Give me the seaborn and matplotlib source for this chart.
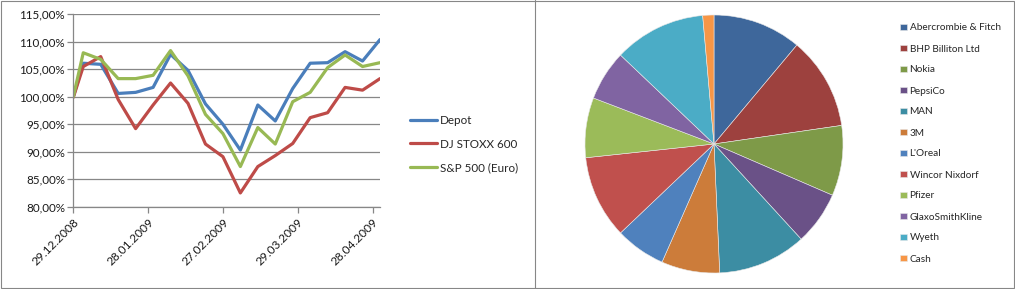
import matplotlib
matplotlib.use("Agg")
import matplotlib.pyplot as plt
import matplotlib.dates as mdates
from matplotlib.patches import Rectangle
from matplotlib.lines import Line2D
import seaborn as sns
import pandas as pd

# ---------------- data ----------------
dates = ["2008-12-29", "2009-01-02", "2009-01-09", "2009-01-16", "2009-01-23",
         "2009-01-30", "2009-02-06", "2009-02-13", "2009-02-20", "2009-02-27",
         "2009-03-06", "2009-03-13", "2009-03-20", "2009-03-27", "2009-04-03",
         "2009-04-10", "2009-04-17", "2009-04-24", "2009-05-01"]
depot = [100.0, 106.1, 105.9, 100.6, 100.8, 101.7, 107.7, 104.8, 98.7, 95.0,
         90.3, 98.5, 95.6, 101.5, 106.1, 106.2, 108.2, 106.5, 110.4]
stoxx = [99.9, 105.5, 107.3, 99.5, 94.2, 98.5, 102.5, 98.8, 91.4, 89.1,
         82.5, 87.3, 89.3, 91.5, 96.2, 97.1, 101.7, 101.2, 103.3]
sp500 = [100.0, 108.0, 106.8, 103.3, 103.3, 103.9, 108.4, 103.8, 96.8, 93.3,
         87.3, 94.4, 91.4, 99.1, 100.8, 105.3, 107.6, 105.5, 106.2]
series_names = ["Depot", "DJ STOXX 600", "S&P 500 (Euro)"]
line_colors = ["#4A7EBB", "#BE4B48", "#98B954"]

x_ticks = ["2008-12-29", "2009-01-28", "2009-02-27", "2009-03-29", "2009-04-28"]
x_range = ["2008-12-29", "2009-05-01"]
y_ticks = [80, 85, 90, 95, 100, 105, 110, 115]

pie_labels = ["Abercrombie & Fitch", "BHP Billiton Ltd", "Nokia", "PepsiCo", "MAN", "3M",
              "L'Oreal", "Wincor Nixdorf", "Pfizer", "GlaxoSmithKline", "Wyeth", "Cash"]
pie_values = [11.1, 11.6, 8.8, 6.7, 11.1, 7.3, 6.3, 10.4, 7.5, 6.3, 11.5, 1.4]
pie_colors = ["#3E679B", "#9D413E", "#7E9A48", "#6A5187", "#3C8DA3", "#CC7C3A",
              "#4F81BD", "#C0504D", "#9BBB59", "#8064A2", "#4BACC6", "#F79646"]

# ---------------- figure ----------------
sns.set_style("white")
plt.rcParams["font.family"] = ["Lato", "DejaVu Sans"]

W, H = 1015, 289
fig = plt.figure(figsize=(W / 100, H / 100), dpi=100)

def fx(px):
    return px / W

def fy(py):
    return 1 - py / H

grid_col = "#878787"

# frames
fig.add_artist(Rectangle((fx(0.5), fy(288.3)), fx(1013.6 - 0.5), (288.3 - 0.5) / H,
                         transform=fig.transFigure, fill=False, edgecolor=grid_col, lw=0.8))
fig.add_artist(Line2D([fx(534.5), fx(534.5)], [fy(0), fy(289)], transform=fig.transFigure,
                      color=grid_col, lw=0.8))

# ---------------- line chart ----------------
df = pd.DataFrame({
    "date": pd.to_datetime(dates * 3),
    "value": depot + stoxx + sp500,
    "series": sum([[n] * len(dates) for n in series_names], []),
})

ax = fig.add_axes([fx(73.3), fy(206.7), fx(380 - 73.3), (206.7 - 14.3) / H])
sns.lineplot(data=df, x="date", y="value", hue="series", hue_order=series_names,
             palette=line_colors, lw=2.3, ax=ax, legend=True)

ax.set_xlim(pd.to_datetime(x_range[0]), pd.to_datetime(x_range[1]))
ax.set_ylim(y_ticks[0], y_ticks[-1])
ax.set_yticks(y_ticks)
ax.set_xticks(pd.to_datetime(x_ticks))
ax.xaxis.set_major_formatter(mdates.DateFormatter("%d.%m.%Y"))
ax.yaxis.set_major_formatter(plt.FuncFormatter(lambda v, p: f"{v:.2f}".replace(".", ",") + "%"))
ax.set_xlabel("")
ax.set_ylabel("")
ax.grid(axis="y", color=grid_col, lw=0.9)
ax.grid(axis="x", visible=False)
ax.set_axisbelow(True)
for s in ["top", "right"]:
    ax.spines[s].set_visible(False)
for s in ["left", "bottom"]:
    ax.spines[s].set_color(grid_col)
    ax.spines[s].set_linewidth(0.9)
ax.tick_params(axis="both", which="major", length=4, width=0.9, color=grid_col,
               labelsize=8.4, labelcolor="#1a1a1a", direction="out", left=True, bottom=True)
ax.tick_params(axis="y", pad=2)
ax.tick_params(axis="x", pad=3)
for lab in ax.get_xticklabels():
    lab.set_rotation(45)
    lab.set_ha("right")
    lab.set_va("top")
    lab.set_rotation_mode("anchor")
    lab.set_fontsize(8.6)

handles, labels = ax.get_legend_handles_labels()
ax.legend(handles, labels, loc="center left", bbox_to_anchor=(fx(410), fy(144)),
          bbox_transform=fig.transFigure, frameon=False, fontsize=8.4,
          handlelength=2.35, handletextpad=0.25, labelspacing=1.1,
          borderpad=0, borderaxespad=0)

# ---------------- pie chart ----------------
cx, cy, r = 714, 144, 129
pax = fig.add_axes([fx(cx - r), fy(cy + r), fx(2 * r), 2 * r / H])
wedges, _ = pax.pie(pie_values, colors=pie_colors, startangle=90, counterclock=False,
                    radius=1, wedgeprops=dict(edgecolor="#e8e8e8", linewidth=0.4))
pax.set_xlim(-1, 1)
pax.set_ylim(-1, 1)
pax.set_aspect("auto")
pax.axis("off")

pax.legend(wedges, pie_labels, loc="center left", bbox_to_anchor=(fx(900), fy(143.5)),
           bbox_transform=fig.transFigure, frameon=False, fontsize=7.2,
           handlelength=0.65, handleheight=0.65, handletextpad=0.3, labelspacing=1.2,
           borderpad=0, borderaxespad=0)

fig.savefig("out.png", dpi=100)
